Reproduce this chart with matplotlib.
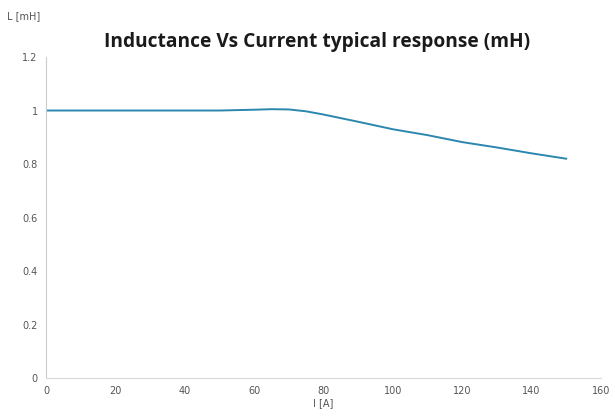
import numpy as np
import matplotlib
matplotlib.use("Agg")
import matplotlib.pyplot as plt

# --- Data ---
current_a = [0, 10, 20, 30, 40, 50, 60, 65, 70, 75, 80, 90, 100, 110, 120, 130, 140, 150]
inductance_mh = [1.0, 1.0, 1.0, 1.0, 1.0, 1.0, 1.003, 1.005, 1.004, 0.997, 0.985, 0.958, 0.93, 0.908, 0.882, 0.862, 0.84, 0.82]
x_ticks = [0, 20, 40, 60, 80, 100, 120, 140, 160]
y_ticks = [0, 0.2, 0.4, 0.6, 0.8, 1.0, 1.2]
y_ticklabels = ["0", "0.2", "0.4", "0.6", "0.8", "1", "1.2"]

fig = plt.figure(figsize=(6.15, 4.16), dpi=100)
ax = fig.add_axes([0.075, 0.091, 0.902, 0.772])

ax.plot(current_a, inductance_mh, color="#2b87ad", linewidth=1.4,
        solid_joinstyle="round")

ax.set_xlim(0, 160)
ax.set_ylim(0, 1.2)
ax.set_xticks(x_ticks)
ax.set_yticks(y_ticks)
ax.set_yticklabels(y_ticklabels)
ax.tick_params(axis="both", length=0, labelsize=7, labelcolor="#555555", pad=6)

for side in ["top", "right"]:
    ax.spines[side].set_visible(False)
ax.spines["left"].set_color("#cccccc")
ax.spines["bottom"].set_color("#d9d9d9")

ax.set_xlabel("I [A]", fontsize=7, color="#555555", labelpad=1)
fig.text(0.012, 0.955, "L [mH]", fontsize=7, color="#555555")
fig.text(0.516, 0.899, "Inductance Vs Current typical response (mH)",
         fontsize=13.8, fontweight="bold", family="Open Sans", ha="center",
         va="center", color="#1a1a1a")

fig.savefig("out.png", dpi=100)
